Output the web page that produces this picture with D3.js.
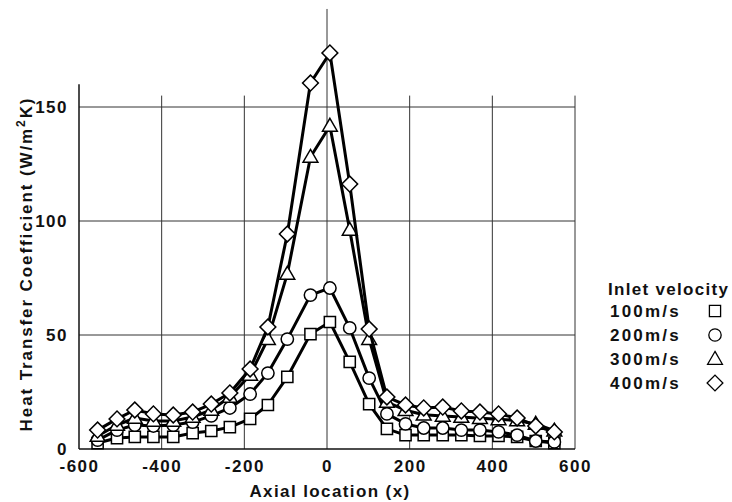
<!DOCTYPE html>
<html>
<head>
<meta charset="utf-8">
<script src="https://cdn.jsdelivr.net/npm/d3@7"></script>
<style>
  body { margin: 0; background: #fff; }
  text { font-family: "Liberation Sans", Arial, sans-serif; font-weight: bold; fill: #111; }
</style>
</head>
<body>
<script>
// axial positions of the measuring points
var xs = [-555, -508, -465, -420, -372, -325, -280, -235, -186, -143, -96, -40, 7,
          55, 102, 145, 190, 234, 280, 325, 370, 415, 460, 505, 550];

// heat transfer coefficient per inlet velocity
var v100 = [2.6, 4.8, 5.3, 5.3, 5.3, 7.0, 7.9, 9.6, 13.2, 19.3, 31.6, 50.4, 55.7,
            38.2, 19.7, 8.8, 6.1, 6.1, 6.1, 6.1, 5.7, 5.7, 5.3, 3.5, 2.6];
var v200 = [3.9, 8.3, 10.5, 10.1, 10.5, 11.8, 14.5, 18.0, 24.1, 33.3, 48.2, 67.5, 70.6,
            53.1, 31.1, 15.4, 11.0, 9.2, 9.2, 8.3, 8.3, 7.5, 6.1, 3.5, 3.1];
var v300 = [5.7, 10.5, 13.6, 12.3, 12.3, 14.0, 17.1, 22.8, 32.5, 48.2, 76.8, 128.1, 141.7,
            96.1, 48.2, 20.6, 17.0, 15.0, 14.5, 14.0, 13.5, 13.0, 12.5, 11.0, 8.0];
var v400 = [8.3, 13.2, 17.1, 15.4, 14.9, 16.2, 19.7, 24.6, 35.1, 53.5, 94.3, 160.5, 173.7,
            116.2, 52.6, 22.8, 19.3, 18.0, 18.4, 16.7, 16.2, 15.4, 13.6, 10.1, 7.5];

var seriesNames = ["100m/s", "200m/s", "300m/s", "400m/s"];
var xTicks = [-600, -400, -200, 0, 200, 400, 600];
var yTicks = [0, 50, 100, 150];

var width = 732, height = 502;

var x = d3.scaleLinear().domain([-600, 600]).range([79, 575]);
var y = d3.scaleLinear().domain([0, 150]).range([449, 107]);

var svg = d3.select("body").append("svg")
    .attr("width", width)
    .attr("height", height);

// grid
var grid = svg.append("g").attr("stroke", "#333").attr("stroke-width", 1);

grid.selectAll(".hgrid")
    .data(yTicks.filter(function(d) { return d > 0; }))
  .enter().append("line")
    .attr("x1", x(-600)).attr("x2", x(600))
    .attr("y1", function(d) { return y(d); })
    .attr("y2", function(d) { return y(d); });

grid.selectAll(".vgrid")
    .data(xTicks.filter(function(d) { return d != -600; }))
  .enter().append("line")
    .attr("x1", function(d) { return x(d); })
    .attr("x2", function(d) { return x(d); })
    .attr("y1", function(d) { return d == 0 ? y(193) : y(155); })
    .attr("y2", y(0));

// left + bottom frame
svg.append("line")
    .attr("x1", x(-600)).attr("x2", x(-600))
    .attr("y1", y(160)).attr("y2", y(0))
    .attr("stroke", "#111").attr("stroke-width", 1.5);
svg.append("line")
    .attr("x1", x(-600)).attr("x2", x(600))
    .attr("y1", y(0)).attr("y2", y(0))
    .attr("stroke", "#111").attr("stroke-width", 1.5);

// axes (labels only)
var xAxis = svg.append("g")
    .attr("transform", "translate(0," + y(0) + ")")
    .call(d3.axisBottom(x).tickValues(xTicks).tickSize(0).tickPadding(11)
      .tickFormat(function(d) { return d < 0 ? "-" + (-d) : d; }));
xAxis.select(".domain").remove();
xAxis.attr("font-family", null).attr("font-size", null);
xAxis.selectAll("text").style("font-size", "17px").style("letter-spacing", "1.5px").attr("fill", null);

var yAxis = svg.append("g")
    .attr("transform", "translate(" + x(-600) + ",0)")
    .call(d3.axisLeft(y).tickValues(yTicks).tickSize(0).tickPadding(11));
yAxis.select(".domain").remove();
yAxis.attr("font-family", null).attr("font-size", null);
yAxis.selectAll("text").style("font-size", "17px").style("letter-spacing", "1.5px").attr("fill", null);

// titles
svg.append("text")
    .attr("x", 330).attr("y", 497)
    .attr("text-anchor", "middle")
    .style("font-size", "17px")
    .style("letter-spacing", "1.4px")
    .text("Axial location (x)");

var yt = svg.append("text")
    .attr("transform", "translate(32,264) rotate(-90)")
    .attr("text-anchor", "middle")
    .style("font-size", "17px")
    .style("letter-spacing", "1.9px");
yt.append("tspan").text("Heat Transfer Coefficient (W/m");
yt.append("tspan").attr("dy", -7).style("font-size", "12px").text("2");
yt.append("tspan").attr("dy", 7).text("K)");

// series
var symbolTypes = [d3.symbolSquare, d3.symbolCircle, d3.symbolTriangle, d3.symbolSquare];
var symbolSizes = [125, 120, 95, 125];
var symbolRot = [0, 0, 0, 45];
var allSeries = [v100, v200, v300, v400];

var line = d3.line()
    .x(function(d) { return x(d[0]); })
    .y(function(d) { return y(d[1]); });

allSeries.forEach(function(vals, i) {
  var pts = xs.map(function(xv, j) { return [xv, vals[j]]; });
  var g = svg.append("g");
  g.append("path")
      .datum(pts)
      .attr("d", line)
      .attr("fill", "none")
      .attr("stroke", "#000")
      .attr("stroke-width", 3)
      .attr("stroke-linejoin", "round");
  var sym = d3.symbol().type(symbolTypes[i]).size(symbolSizes[i]);
  g.selectAll("path.pt")
      .data(pts)
    .enter().append("path")
      .attr("class", "pt")
      .attr("d", sym)
      .attr("transform", function(d) {
        return "translate(" + x(d[0]) + "," + (y(d[1]) + (i == 2 ? 1 : 0)) + ") rotate(" + symbolRot[i] + ")";
      })
      .attr("fill", "#fff")
      .attr("stroke", "#000")
      .attr("stroke-width", 1.5);
});

// legend
var legend = svg.append("g");
legend.append("text")
    .attr("x", 608).attr("y", 295)
    .style("font-size", "17px")
    .style("letter-spacing", "1.3px")
    .text("Inlet velocity");

seriesNames.forEach(function(name, i) {
  var by = 317 + i * 24;
  legend.append("text")
      .attr("x", 610).attr("y", by)
      .style("font-size", "17px")
      .style("letter-spacing", "2.2px")
      .text(name);
  legend.append("path")
      .attr("d", d3.symbol().type(symbolTypes[i]).size(symbolSizes[i])())
      .attr("transform", "translate(715," + (by - 6 + (i == 2 ? 1 : 0)) + ") rotate(" + symbolRot[i] + ")")
      .attr("fill", "#fff")
      .attr("stroke", "#000")
      .attr("stroke-width", 1.3);
});
</script>
</body>
</html>
